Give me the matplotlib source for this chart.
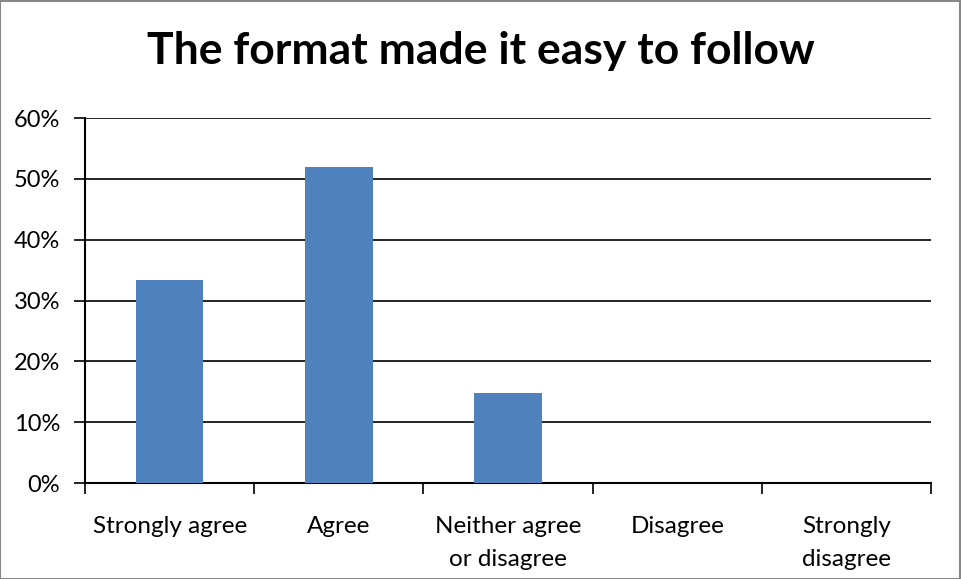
import matplotlib
matplotlib.use("Agg")
import matplotlib.pyplot as plt
from matplotlib.patches import Rectangle
from matplotlib.ticker import FixedLocator, PercentFormatter

categories = ["Strongly agree", "Agree", "Neither agree\nor disagree", "Disagree", "Strongly\ndisagree"]
values = [33.3, 51.9, 14.8, 0.0, 0.0]
yticks = [0, 10, 20, 30, 40, 50, 60]
title = "The format made it easy to follow"

plt.rcParams['font.family'] = ['Lato', 'DejaVu Sans']

fig = plt.figure(figsize=(9.61, 5.79), dpi=100)
fig.patches.append(Rectangle((0.0005, 0.0008), 0.998, 0.998, transform=fig.transFigure,
                             fill=False, edgecolor='#888888', linewidth=1.5))
ax = fig.add_axes([0.0885, 0.1658, 0.8803, 0.6304])

x = list(range(len(categories)))
ax.bar(x, values, width=0.4, color='#4F81BD', zorder=3)
ax.set_xlim(-0.5, len(categories) - 0.5)
ax.set_ylim(0, 60)
ax.set_yticks(yticks)
ax.yaxis.set_major_formatter(PercentFormatter(decimals=0))
ax.grid(axis='y', color='black', linewidth=1.2, zorder=1)
ax.set_axisbelow(True)

ax.set_xticks(x)
ax.set_xticklabels(categories, fontsize=17.5, linespacing=1.7)
ax.xaxis.set_minor_locator(FixedLocator([i - 0.5 for i in range(len(categories) + 1)]))
ax.tick_params(axis='x', which='major', length=0, pad=24)
ax.tick_params(axis='x', which='minor', length=8, width=1.2, color='black')
ax.tick_params(axis='y', length=8, width=1.2, labelsize=17, pad=10)

for s in ['top', 'right']:
    ax.spines[s].set_visible(False)
for s in ['left', 'bottom']:
    ax.spines[s].set_linewidth(1.5)
    ax.spines[s].set_color('black')

fig.text(0.5, 0.912, title, ha='center', va='center', fontsize=32, fontweight='bold')

fig.savefig("out.png", dpi=100)
